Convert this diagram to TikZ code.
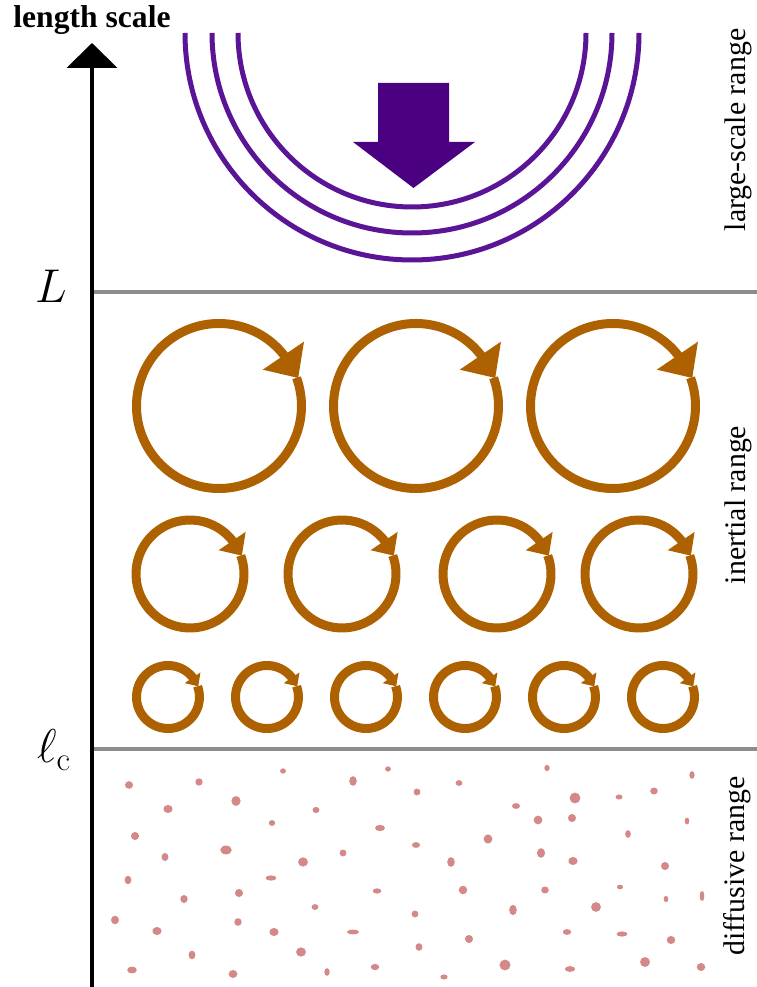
\RequirePackage{fix-cm}
\documentclass[tikz,border=0pt]{standalone}
\usepackage[no-math]{fontspec}
\setmainfont{Liberation Serif}
\usepackage{tikz}
\usetikzlibrary{arrows.meta}
\definecolor{eddybrown}{HTML}{AE6100}
\definecolor{forceviolet}{HTML}{4B0082}
\definecolor{waveviolet}{HTML}{5A1596}
\definecolor{speckpink}{HTML}{D48888}
\definecolor{rulegray}{HTML}{8C8C8C}
\tikzset{
    axisline/.style={line width=0.09cm,-{Triangle[length=0.5cm,width=1cm]}},
    levelline/.style={draw=rulegray,line width=0.08cm},
    wave/.style={draw=waveviolet,line width=0.1cm},
    eddyring/.style={draw=eddybrown,line width=0.18cm},
    speck/.style={fill=speckpink},
    scalelabel/.style={font=\fontsize{27}{30}\selectfont,inner sep=0pt,anchor=base},
    rangelabel/.style={font=\fontsize{17}{20}\selectfont,rotate=90,inner sep=0pt},
}
% one eddy: centre x, centre y, radius
\newcommand{\eddy}[3]{%
    \begin{scope}[shift={(#1,#2)},scale=#3]
        \draw[eddyring] (36:1) arc[start angle=36,end angle=380,radius=1];
        \fill[eddybrown] (1.03,0.78) -- (0.53,0.44) -- (0.96,0.34) -- cycle;
    \end{scope}}

\begin{document}
\begin{tikzpicture}[x=0.02cm,y=0.02cm]
    \useasboundingbox (0,0) rectangle (757,987);

    % range borders
    \coordinate (Lleft) at (92,695);
    \coordinate (Lright) at (757,695);
    \coordinate (lcleft) at (92,238);
    \coordinate (lcright) at (757,238);
    \draw[levelline] (Lleft) -- (Lright);
    \draw[levelline] (lcleft) -- (lcright);

    % axis
    \coordinate (axisbot) at (92,0);
    \coordinate (axistop) at (92,944);
    \draw[axisline] (axisbot) -- (axistop);
    \node[font=\fontsize{18}{20}\selectfont\bfseries,anchor=base,inner sep=0pt] (title) at (92,959) {length scale};
    \node[scalelabel] (L) at (51,684) {$L$};
    \node[scalelabel] (lc) at (54,224) {$\ell_{\mathrm{c}}$};

    % large scales
    \foreach \r in {174,200,227}
        \draw[wave] ({412-\r},954) arc[start angle=180,end angle=360,radius=\r];
    \fill[forceviolet] (378,904) -- (449,904) -- (449,845) -- (475,845)
        -- (413.5,799) -- (353,845) -- (378,845) -- cycle;

    % inertial range
    \foreach \x in {219,416,613} {\eddy{\x}{581}{82.5}}
    \foreach \x in {190,342,497,639} {\eddy{\x}{413}{54}}
    \foreach \x in {168,267,...,663} {\eddy{\x}{290}{31.5}}

    % diffusive range
    \foreach \x/\y/\a/\b in {
        129/202/3.5/3.3, 199/205/3.2/3.2, 283/216/2.5/2.3, 388/218/2.5/2.3,
        353/206/3.3/4.2, 417/195/3/3, 168/178/4/3.5, 236/186/4/4.3,
        316/177/3/2.7, 272/164/2.8/2.5, 380/159/4.3/2.7, 416/142/3.5/2.5,
        135/151/3.5/3.5, 226/137/5/3.8, 165/130/3/3.5, 303/125/4.3/4,
        343/134/3/3, 128/107/3/3.7, 271/109/4.7/2.3, 239/94/3.5/3.5,
        184/88/3.2/3.5, 377/96/3.7/2.3, 315/80/3/2.5, 115/67/3.5/3.7,
        238/65/3.2/3.3, 157/56/4/3.5, 274/55/4/3.5, 353/55/5.3/2,
        415/73/3/3, 419/40/3/3.3, 192/32/3/3.8, 301/35/4.3/4,
        132/17/4.2/3, 233/13/3.8/3.5, 327/15/2.3/3.3, 375/20/3.7/2.7,
        547/219/2.3/2.8, 459/204/3/2.5, 692/212/2.3/3.3, 575/189/4.7/4.7,
        619/190/3/2.2, 654/196/3.3/3, 516/181/3.5/2.5, 538/167/3.8/3.8,
        572/169/3.5/3.5, 687/166/2/3, 628/153/2.5/3.3, 488/148/3.8/4,
        451/125/3.3/4.2, 541/134/3.5/4.2, 573/126/4/3.5, 665/121/3.5/3.5,
        463/97/3.7/3.7, 545/97/3.3/3, 620/100/2.7/2, 666/88/2/2.7,
        702/91/2/4.5, 513/77/3.3/4.5, 596/80/4.3/4.2, 567/55/3.7/2.5,
        622/53/4.7/2.3, 671/47/3.7/3.5, 469/48/3.5/3.5, 505/22/4.8/4.7,
        570/18/4.5/2.5, 645/25/4.3/4.3, 701/20/3.7/3.5, 444/10/3.2/2.2}
        \fill[speck] (\x,\y) ellipse[x radius=1.15*\a,y radius=1.15*\b];

    % range names
    \node[rangelabel] (large) at (738,857) {large-scale range};
    \node[rangelabel] (inertial) at (738,482) {inertial range};
    \node[rangelabel] (diffusive) at (737,121) {diffusive range};
\end{tikzpicture}
\end{document}
